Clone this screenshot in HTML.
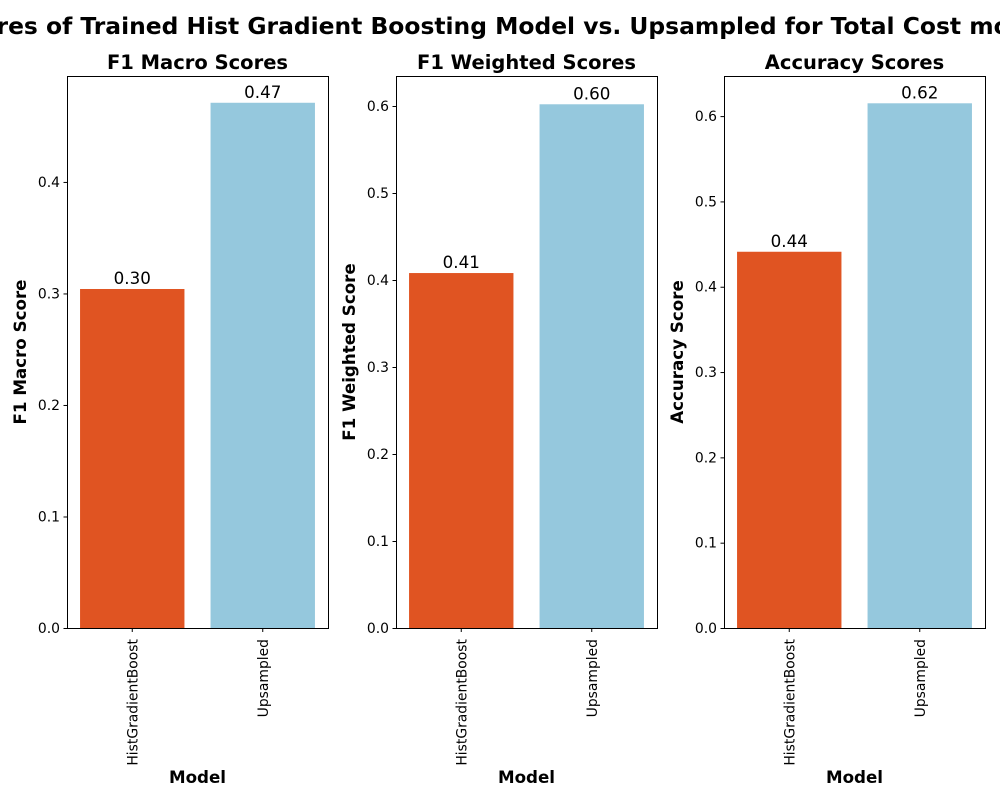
<!DOCTYPE html>
<html><head><meta charset="utf-8">
<style>
html,body{margin:0;padding:0;background:#fff;overflow:hidden;}
svg{display:block;font-family:"DejaVu Sans","Liberation Sans",sans-serif;}
</style></head>
<body>
<svg id="chart" width="1000" height="800" viewBox="0 0 1000 800"></svg>
<script>
const categories = ["HistGradientBoost", "Upsampled"];
const f1MacroValues = [0.304, 0.471];
const f1WeightedValues = [0.408, 0.602];
const accuracyValues = [0.441, 0.615];
const f1MacroTicks = [0.0, 0.1, 0.2, 0.3, 0.4];
const f1WeightedTicks = [0.0, 0.1, 0.2, 0.3, 0.4, 0.5, 0.6];
const accuracyTicks = [0.0, 0.1, 0.2, 0.3, 0.4, 0.5, 0.6];
const valueLabels1 = ["0.30", "0.47"];
const valueLabels2 = ["0.41", "0.60"];
const valueLabels3 = ["0.44", "0.62"];
const colors = ["#e05422", "#95c8dd"];

const svgRoot = document.getElementById('chart');
const NS = "http://www.w3.org/2000/svg";
function mk(tag, attrs, parent, text){
  const e = document.createElementNS(NS, tag);
  for (const k in attrs) e.setAttribute(k, attrs[k]);
  if (text !== undefined) e.textContent = text;
  (parent || svgRoot).appendChild(e);
  return e;
}

const title = mk('text', {x:500, y:34, 'text-anchor':'middle', 'font-size':23.4, 'font-weight':'bold'}, svgRoot, "Scores of Trained Hist Gradient Boosting Model vs. Upsampled for Total Cost model");



const panels = [
  {x0:67, title:"F1 Macro Scores", ylab:"F1 Macro Score", vals:f1MacroValues, ticks:f1MacroTicks, ymax:0.495, labels:valueLabels1, key:'f1-macro'},
  {x0:396, title:"F1 Weighted Scores", ylab:"F1 Weighted Score", vals:f1WeightedValues, ticks:f1WeightedTicks, ymax:0.6345, labels:valueLabels2, key:'f1-weighted'},
  {x0:724, title:"Accuracy Scores", ylab:"Accuracy Score", vals:accuracyValues, ticks:accuracyTicks, ymax:0.647, labels:valueLabels3, key:'accuracy'}
];
const plotTop = 76, plotBottom = 628, W = 261;

panels.forEach(p => {
  const g = mk('g', {});
  
  
  const yScale = v => plotBottom - v / p.ymax * (plotBottom - plotTop);
  const xScale = i => p.x0 + (i + 0.5) / 2 * W;
  const bw = 0.8 * W / 2;

  const t = mk('text', {x:p.x0 + W/2, y:69, 'text-anchor':'middle', 'font-size':19.5, 'font-weight':'bold'}, g, p.title);
  
  

  p.vals.forEach((v, i) => {
    const r = mk('rect', {x:xScale(i) - bw/2, y:yScale(v), width:bw, height:plotBottom - yScale(v), fill:colors[i]}, g);
    
    
    const lt = mk('text', {x:xScale(i), y:yScale(v) - 5, 'text-anchor':'middle', 'font-size':16.7}, g, p.labels[i]);
    
    
  });

  const frame = mk('rect', {x:p.x0 + 0.5, y:plotTop + 0.5, width:W, height:plotBottom - plotTop, fill:'none', stroke:'#000', 'stroke-width':1}, g);
  
  

  p.ticks.forEach(tv => {
    const y = yScale(tv);
    mk('line', {x1:p.x0 - 3.5, x2:p.x0, y1:y + 0.5, y2:y + 0.5, stroke:'#000'}, g);
    const tl = mk('text', {x:p.x0 - 7, y:y + 5, 'text-anchor':'end', 'font-size':13.9}, g, tv.toFixed(1));
    
    
  });

  categories.forEach((c, i) => {
    const x = xScale(i);
    mk('line', {x1:x, x2:x, y1:plotBottom, y2:plotBottom + 4, stroke:'#000'}, g);
    const cl = mk('text', {x:0, y:0, 'text-anchor':'end', 'font-size':13.9, transform:`translate(${x + 5},${plotBottom + 11}) rotate(-90)`}, g, c);
    
    
  });

  const xl = mk('text', {x:p.x0 + W/2, y:783, 'text-anchor':'middle', 'font-size':16.7, 'font-weight':'bold'}, g, "Model");
  
  
  const yl = mk('text', {x:0, y:0, 'text-anchor':'middle', 'font-size':16.7, 'font-weight':'bold', transform:`translate(${p.x0 - 41},${(plotTop + plotBottom)/2}) rotate(-90)`}, g, p.ylab);
  
  
});
</script>
</body></html>
